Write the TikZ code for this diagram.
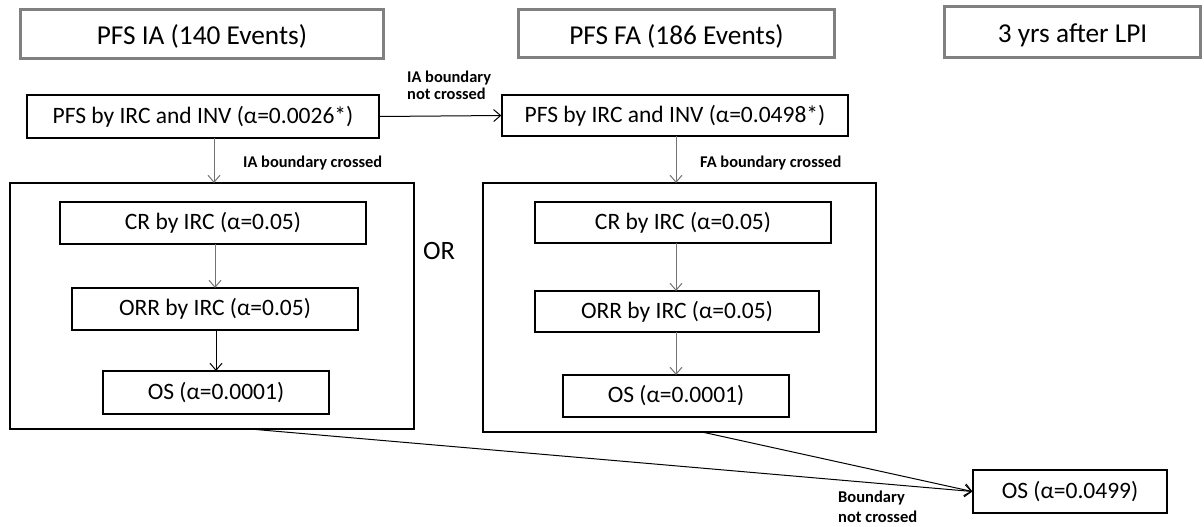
\documentclass[tikz,border=0pt]{standalone}
\usepackage{fontspec}
\setmainfont{Carlito}
\usetikzlibrary{arrows.meta}
\begin{document}
\begin{tikzpicture}[x=1pt,y=-1pt,
  header/.style={draw=black!50, line width=3.2pt, inner sep=0pt, text height=26pt, text depth=4pt, font=\fontsize{27.3}{32}\selectfont},
  box/.style={draw=black, line width=1.3pt, inner sep=0pt, font=\fontsize{23.5}{27}\selectfont},
  grp/.style={draw=black, line width=1.3pt, inner sep=0pt},
  lbl/.style={font=\fontsize{16.4}{17}\selectfont\bfseries, align=left, inner sep=0pt},
  arr/.style={-{Straight Barb[length=7pt,width=12pt]}, line width=1pt},
  garr/.style={arr, draw=black!55}]
\useasboundingbox (0,0) rectangle (1204,527);
% headers
\node[header, minimum width=363pt, minimum height=49pt] (h1) at (202,34) {PFS IA (140 Events)};
\node[header, minimum width=316pt, minimum height=48pt] (h2) at (676.5,33.5) {PFS FA (186 Events)};
\node[header, minimum width=256pt, minimum height=51pt] (h3) at (1072.5,32) {3 yrs after LPI};
% PFS boxes
\node[box, minimum width=352pt, minimum height=43pt] (p1) at (203,116.5) {PFS by IRC and INV (α=0.0026*)};
\node[box, minimum width=346pt, minimum height=41pt] (p2) at (675,115.5) {PFS by IRC and INV (α=0.0498*)};
% groups
\node[grp, minimum width=404pt, minimum height=246pt] (g1) at (212,306) {};
\node[grp, minimum width=393pt, minimum height=249pt] (g2) at (679.5,307.5) {};
% inner boxes left
\node[box, minimum width=306pt, minimum height=42pt] (c1) at (213,223) {CR by IRC (α=0.05)};
\node[box, minimum width=286pt, minimum height=42pt] (r1) at (215,309) {ORR by IRC (α=0.05)};
\node[box, minimum width=226pt, minimum height=43pt] (o1) at (216,392.5) {OS (α=0.0001)};
% inner boxes right
\node[box, minimum width=296pt, minimum height=41pt] (c2) at (683,222.5) {CR by IRC (α=0.05)};
\node[box, minimum width=284pt, minimum height=41pt] (r2) at (677,311.5) {ORR by IRC (α=0.05)};
\node[box, minimum width=226pt, minimum height=42pt] (o2) at (676,396) {OS (α=0.0001)};
% final
\node[box, minimum width=194pt, minimum height=43pt] (fin) at (1070,491.5) {OS (α=0.0499)};
% OR
\node[font=\fontsize{26.5}{30}\selectfont, inner sep=0pt, anchor=base west] (or) at (423,259) {OR};
% labels
\node[lbl, anchor=north west] (l1) at (407,71) {IA boundary\\not crossed};
\node[lbl, anchor=base west] (l2) at (243,167) {IA boundary crossed};
\node[lbl, anchor=base west] (l3) at (700,167) {FA boundary crossed};
\node[lbl, anchor=north west, font=\fontsize{16.5}{20}\selectfont\bfseries] (l4) at (838,491) {Boundary\\not crossed};
% arrows
\draw[arr] (p1.east) -- (p2.west);
\draw[garr] (214,138) -- (214,183);
\draw[garr] (676,136) -- (676,183);
\draw[garr] (215,244) -- (215,288);
\draw[arr] (216,330) -- (216,371);
\draw[garr] (676,243) -- (676,291);
\draw[garr] (676,332) -- (676,375);
\coordinate (b1) at (250,429);
\coordinate (b2) at (702,432);
\draw[arr] (b1) -- (fin.west);
\draw[arr] (b2) -- (fin.west);
\end{tikzpicture}
\end{document}
